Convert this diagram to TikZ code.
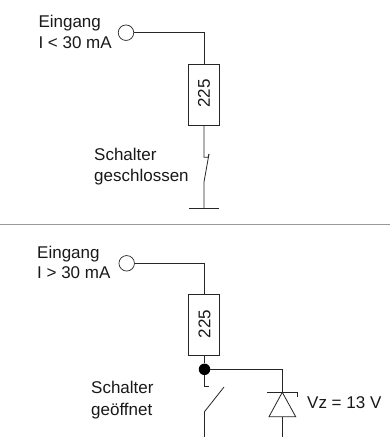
\documentclass[tikz,border=0pt]{standalone}
\usepackage{fontspec}
\setmainfont{Liberation Sans}
\tikzset{
 wire/.style={line width=0.8pt,black!85},
 lbl/.style={inner sep=0pt,align=left,anchor=base west,font=\fontsize{17}{21}\selectfont,text=black!90},
 term/.style={circle,draw=black!85,fill=white,line width=0.7pt,minimum size=15.5pt,inner sep=0pt},
 res/.style={draw=black!85,fill=white,line width=0.8pt,minimum width=31pt,minimum height=61pt,inner sep=0pt},
 dot/.style={circle,fill=black,minimum size=11.5pt,inner sep=0pt}
}
\begin{document}
\begin{tikzpicture}[x=1pt,y=-1pt]
\useasboundingbox (0,0) rectangle (390,437);
\fill[white] (0,0) rectangle (390,437);
% top circuit
\node[lbl] (t1a) at (38.3,27) {Eingang};
\node[lbl] (t1b) at (38.3,48) {I < 30 mA};
\node[term] (c1) at (126,32.7) {};
\coordinate (k1) at (204,32.7);
\node[res] (r1) at (203.5,95) {};
\node[rotate=90,font=\fontsize{17}{20}\selectfont,text=black!90] (r1t) at (204,93.5) {225};
\coordinate (s1a) at (204,157.3);
\coordinate (s1b) at (208,157.3);
\coordinate (s1t) at (209,154);
\coordinate (s1c) at (204,182);
\node[inner sep=0pt,minimum size=0pt] (g1) at (204,208) {};
\coordinate (g1l) at (189,208);
\coordinate (g1r) at (219,208);
\draw[wire] (c1) -- (k1) -- (r1.north -| k1);
\draw[wire] (r1.south -| k1) -- (s1a) -- (s1b) -- (s1t);
\draw[wire] (s1t) -- (s1c) -- (g1.center);
\draw[wire] (g1l) -- (g1r);
\node[lbl] (t2a) at (94,160) {Schalter};
\node[lbl] (t2b) at (94,181) {geschlossen};
% separator
\coordinate (sl) at (0,224);
\coordinate (sr) at (390,224);
\draw[line width=0.9pt,black!40] (sl) -- (sr);
% bottom circuit
\node[lbl] (t3a) at (37,258) {Eingang};
\node[lbl] (t3b) at (37,278) {I > 30 mA};
\node[term] (c2) at (126.7,263.3) {};
\coordinate (k2) at (204.5,263.3);
\node[res] (r2) at (203.8,325.2) {};
\node[rotate=90,font=\fontsize{17}{20}\selectfont,text=black!90] (r2t) at (204.5,324) {225};
\node[dot] (d) at (204.5,369.3) {};
\coordinate (k3) at (282.3,369.3);
\coordinate (s2a) at (204.5,386.3);
\coordinate (s2b) at (209,386.3);
\coordinate (s2c) at (224,387);
\coordinate (s2d) at (204.5,411.7);
\coordinate (s2e) at (204.5,437);
\draw[wire] (c2) -- (k2) -- (r2.north -| k2);
\draw[wire] (r2.south -| k2) -- (d);
\draw[wire] (d) -- (k3);
\draw[wire] (d) -- (s2a) -- (s2b);
\draw[wire] (s2c) -- (s2d) -- (s2e);
% zener
\coordinate (za) at (282.3,392.3);
\coordinate (zl) at (269,416.7);
\coordinate (zr) at (295.7,416.7);
\coordinate (zm) at (282.3,416.7);
\coordinate (zbl) at (267,392.3);
\coordinate (zbr) at (297,392.3);
\coordinate (zbe) at (297,396.7);
\coordinate (zbot) at (282.3,437);
\draw[wire] (k3) -- (za);
\draw[wire] (za) -- (zl) -- (zr) -- cycle;
\draw[wire] (zbl) -- (zbr) -- (zbe);
\draw[wire] (zm) -- (zbot);
\node[lbl] (t4a) at (91,393) {Schalter};
\node[lbl] (t4b) at (91,415) {geöffnet};
\node[lbl] (t5) at (307,408) {Vz = 13 V};
\end{tikzpicture}
\end{document}
